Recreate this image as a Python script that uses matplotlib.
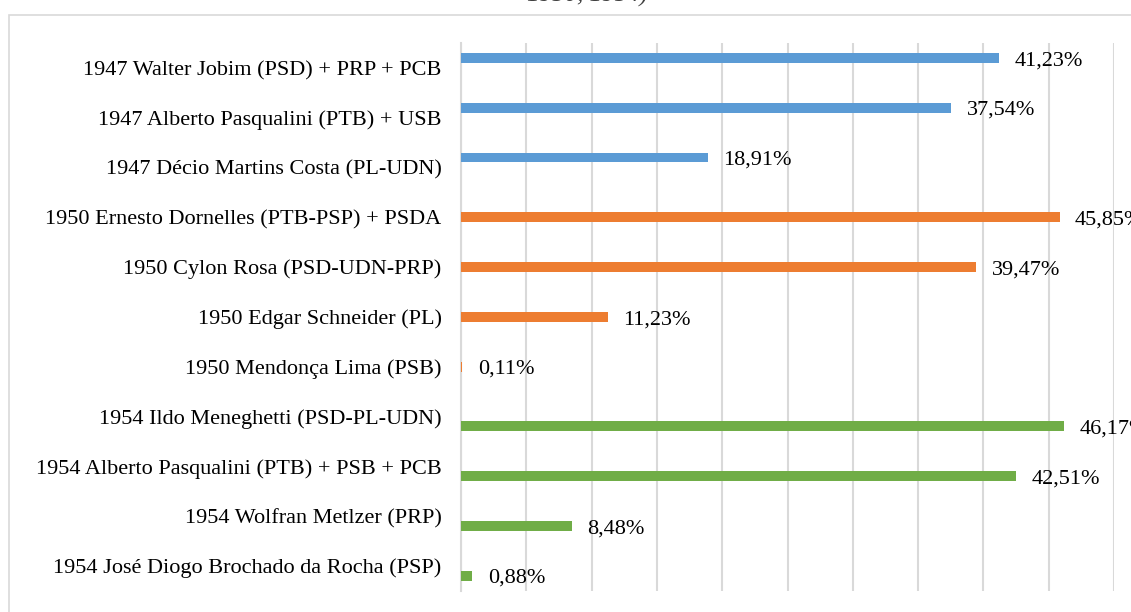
import matplotlib.pyplot as plt
from matplotlib.patches import Rectangle

plt.rcParams['font.family'] = ['Liberation Serif', 'DejaVu Serif']

candidatos = [
    '1947 Walter Jobim (PSD) + PRP + PCB',
    '1947 Alberto Pasqualini (PTB) + USB',
    '1947 Décio Martins Costa (PL-UDN)',
    '1950 Ernesto Dornelles (PTB-PSP) + PSDA',
    '1950 Cylon Rosa (PSD-UDN-PRP)',
    '1950 Edgar Schneider (PL)',
    '1950 Mendonça Lima (PSB)',
    '1954 Ildo Meneghetti (PSD-PL-UDN)',
    '1954 Alberto Pasqualini (PTB) + PSB + PCB',
    '1954 Wolfran Metlzer (PRP)',
    '1954 José Diogo Brochado da Rocha (PSP)',
]
votos = [41.23, 37.54, 18.91, 45.85, 39.47, 11.23, 0.11, 46.17, 42.51, 8.48, 0.88]
eleicao = [1947, 1947, 1947, 1950, 1950, 1950, 1950, 1954, 1954, 1954, 1954]

cores = {1947: '#5B9BD5', 1950: '#ED7D31', 1954: '#70AD47'}
# each year is its own series in a clustered chart, so bars sit off-centre
desloc = {1947: -0.2, 1950: 0.0, 1954: 0.2}

W, H = 1131, 612
fig = plt.figure(figsize=(W / 100, H / 100), dpi=100)

# chart area border (only top and left edges fall inside the picture)
fig.patches.append(Rectangle((9 / W, -0.2), 1.5, 1.2 - 14.5 / H, transform=fig.transFigure,
                             fill=False, edgecolor='#d9d9d9', linewidth=1.2))

# clipped title
fig.text(648 / W, 1 - 2 / H, '1950, 1954)', ha='right', va='baseline',
         fontsize=18, style='italic', color='#404040')

ax = fig.add_axes([461 / W, 1 - 590.7 / H, (1114 - 461) / W, (590.7 - 43) / H])

for i, (v, ano) in enumerate(zip(votos, eleicao)):
    y = i + desloc[ano]
    ax.barh(y, v, height=0.2, color=cores[ano], zorder=3)
    ax.annotate(f'{v:.2f}'.replace('.', ',') + '%', (v, y), xytext=(11, -2),
                textcoords='offset points', va='center', ha='left',
                fontsize=16, annotation_clip=False)

ax.set_xlim(0, 50)
ax.set_ylim(10.5, -0.5)
ax.set_xticks(range(0, 51, 5))
ax.set_yticks(range(len(candidatos)))
ax.set_yticklabels(candidatos, fontsize=16)
ax.tick_params(axis='x', length=0, labelbottom=False)
ax.tick_params(axis='y', length=0, pad=14)
ax.grid(axis='x', color='#d9d9d9', linewidth=1.5, zorder=0)
for s in ['top', 'right', 'bottom']:
    ax.spines[s].set_visible(False)
ax.spines['left'].set_color('#d9d9d9')
ax.spines['left'].set_linewidth(1.5)

fig.savefig('out.png', dpi=100)
